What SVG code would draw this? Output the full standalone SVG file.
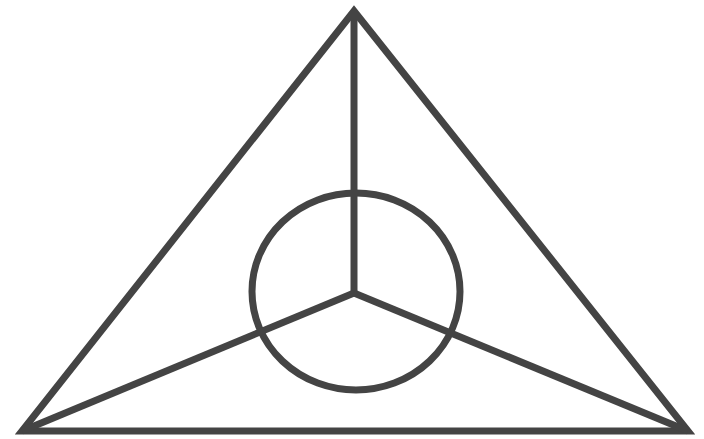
<svg xmlns="http://www.w3.org/2000/svg" width="704" height="439" viewBox="0 0 704 439">
<style>.s{fill:none;stroke:#444;stroke-width:7;stroke-linejoin:miter;stroke-linecap:butt}</style>
<rect width="704" height="439" fill="#fff"/>
<g id="triangle"><polygon class="s" points="354,11 22,431 688,431"/></g>
<g id="circle"><ellipse class="s" cx="356" cy="291.5" rx="104" ry="98.5"/></g>
<g id="connectors">
<line class="s" x1="354" y1="11" x2="354" y2="293"/>
<line class="s" x1="354" y1="293" x2="22" y2="431"/>
<line class="s" x1="354" y1="293" x2="688" y2="431"/>
</g>
</svg>
